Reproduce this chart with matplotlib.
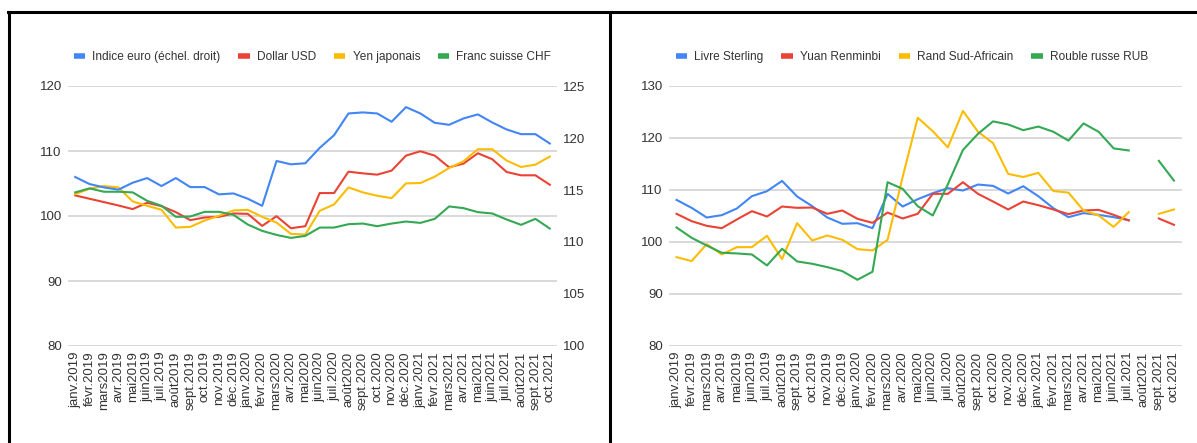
import numpy as np
import matplotlib.pyplot as plt
from matplotlib.lines import Line2D

plt.rcParams['font.family'] = ['Liberation Sans', 'DejaVu Sans']

months = ['janv.2019', 'févr.2019', 'mars2019', 'avr.2019', 'mai2019', 'juin2019',
          'juil.2019', 'août2019', 'sept.2019', 'oct.2019', 'nov.2019', 'déc.2019',
          'janv.2020', 'févr.2020', 'mars2020', 'avr.2020', 'mai2020', 'juin2020',
          'juil.2020', 'août2020', 'sept.2020', 'oct.2020', 'nov.2020', 'déc.2020',
          'janv.2021', 'févr.2021', 'mars2021', 'avr.2021', 'mai2021', 'juin2021',
          'juil.2021', 'août2021', 'sept.2021', 'oct.2021']

# Left chart: euro index (right scale) and three currencies (left scale)
euro_index = [116.25, 115.57, 115.25, 115.03, 115.70, 116.15, 115.38, 116.15, 115.28, 115.28,
              114.58, 114.67, 114.16, 113.48, 117.79, 117.47, 117.57, 119.05, 120.27, 122.36,
              122.46, 122.36, 121.56, 122.97, 122.36, 121.46, 121.27, 121.88, 122.27, 121.49,
              120.82, 120.37, 120.37, 119.47]
dollar_usd = [103.17, 102.65, 102.14, 101.62, 101.06, 102.03, 101.52, 100.59, 99.36, 99.77,
              99.87, 100.39, 100.33, 98.48, 99.97, 98.12, 98.43, 103.53, 103.53, 106.82,
              106.56, 106.36, 106.98, 109.29, 109.96, 109.29, 107.49, 108.06, 109.65, 108.73,
              106.77, 106.26, 106.26, 104.81]
yen = [103.37, 104.20, 104.61, 104.40, 102.24, 101.57, 100.95, 98.22, 98.33, 99.31,
       100.03, 100.85, 100.95, 99.87, 98.99, 97.25, 97.14, 100.80, 101.78, 104.40,
       103.63, 103.11, 102.75, 105.02, 105.07, 106.05, 107.39, 108.42, 110.27, 110.27,
       108.52, 107.54, 107.90, 109.14]
franc_chf = [103.63, 104.25, 103.73, 103.73, 103.63, 102.34, 101.57, 99.87, 99.92, 100.64,
             100.64, 100.18, 98.69, 97.71, 97.09, 96.63, 96.94, 98.22, 98.22, 98.74,
             98.84, 98.43, 98.84, 99.15, 98.94, 99.56, 101.47, 101.21, 100.59, 100.39,
             99.46, 98.64, 99.56, 98.07]

# Right chart: four more currencies (gaps where no value)
nan = np.nan
sterling = [108.1, 106.57, 104.71, 105.16, 106.44, 108.81, 109.77, 111.75, 108.75, 106.89,
            104.71, 103.50, 103.62, 102.66, 109.26, 106.82, 108.23, 109.39, 110.35, 109.90,
            111.05, 110.79, 109.32, 110.73, 108.81, 106.50, 104.78, 105.55, 105.22, 104.78,
            104.20, nan, nan, nan]
yuan = [105.42, 104.01, 103.11, 102.66, 104.33, 105.93, 104.90, 106.82, 106.57, 106.63,
        105.42, 106.06, 104.46, 103.69, 105.67, 104.52, 105.42, 109.26, 109.26, 111.50,
        109.26, 107.78, 106.25, 107.78, 107.08, 106.25, 105.35, 106.06, 106.18, 105.22,
        104.14, nan, 104.52, 103.30]
rand = [97.09, 96.33, 99.59, 97.60, 99.01, 99.01, 101.19, 96.71, 103.62, 100.29,
        101.25, 100.42, 98.63, 98.37, 100.42, 112.5, 123.9, 121.3, 118.2, 125.2,
        121.2, 119.0, 113.1, 112.5, 113.3, 109.8, 109.5, 106.06, 105.1, 102.9,
        105.74, nan, 105.42, 106.25]
rouble = [102.79, 100.81, 99.33, 97.93, 97.80, 97.60, 95.49, 98.69, 96.26, 95.81,
          95.17, 94.40, 92.74, 94.28, 111.50, 110.22, 106.89, 105.10, 111.1, 117.7,
          120.8, 123.2, 122.6, 121.5, 122.2, 121.2, 119.5, 122.8, 121.2, 118.0,
          117.6, nan, 115.6, 111.8]

BLUE, RED, YELLOW, GREEN = '#4285F4', '#EA4335', '#FBBC04', '#34A853'
TXT = '#333333'
GRID = '#d0d0d0'

fig = plt.figure(figsize=(11.97, 4.43), dpi=100)
x = np.arange(len(months))


def style(ax, ylim, yticks):
    ax.set_xlim(-0.5, len(months) - 0.5)
    ax.set_ylim(*ylim)
    ax.set_yticks(yticks)
    ax.set_xticks(x)
    ax.set_xticklabels(months, rotation=90, fontsize=9.5, color=TXT)
    ax.tick_params(length=0, labelsize=9.5, labelcolor=TXT)
    ax.tick_params(axis='x', pad=4)
    ax.tick_params(axis='y', pad=4.5)
    for s in ax.spines.values():
        s.set_visible(False)
    ax.grid(axis='y', color=GRID, lw=1.1)
    ax.set_axisbelow(True)


def legend(ax, names, colors, xc):
    handles = [Line2D([0], [0], color=c, lw=4, solid_capstyle='butt') for c in colors]
    ax.legend(handles, names, loc='center', bbox_to_anchor=(xc, 1.11), ncol=4,
              frameon=False, fontsize=8.6, handlelength=0.95, handletextpad=0.6,
              columnspacing=1.5, labelcolor=TXT)


# left chart
ax1 = fig.add_axes([68 / 1197, 1 - 346 / 443, 489 / 1197, 260 / 443])
style(ax1, (80, 120), [80, 90, 100, 110, 120])
ax1r = ax1.twinx()
ax1r.set_ylim(100, 125)
ax1r.set_yticks([100, 105, 110, 115, 120, 125])
ax1r.tick_params(length=0, labelsize=9.5, labelcolor=TXT, pad=4.5)
for s in ax1r.spines.values():
    s.set_visible(False)
ax1.plot(x, dollar_usd, color=RED, lw=1.5)
ax1.plot(x, yen, color=YELLOW, lw=1.5)
ax1.plot(x, franc_chf, color=GREEN, lw=1.5)
ax1r.plot(x, euro_index, color=BLUE, lw=1.5)
legend(ax1r, ['Indice euro (échel. droit)', 'Dollar USD', 'Yen japonais', 'Franc suisse CHF'],
       [BLUE, RED, YELLOW, GREEN], 0.5)

# right chart
ax2 = fig.add_axes([669 / 1197, 1 - 346 / 443, 512.5 / 1197, 260 / 443])
style(ax2, (80, 130), [80, 90, 100, 110, 120, 130])
ax2.plot(x, sterling, color=BLUE, lw=1.5)
ax2.plot(x, yuan, color=RED, lw=1.5)
ax2.plot(x, rand, color=YELLOW, lw=1.5)
ax2.plot(x, rouble, color=GREEN, lw=1.5)
legend(ax2, ['Livre Sterling', 'Yuan Renminbi', 'Rand Sud-Africain', 'Rouble russe RUB'],
       [BLUE, RED, YELLOW, GREEN], 0.474)

# black frame lines around the panels
top = 1 - 11.5 / 443
fig.add_artist(Line2D([8 / 1197, 1], [top, top], color='black', lw=2.2))
fig.add_artist(Line2D([9 / 1197, 9 / 1197], [0, top], color='black', lw=2.2))
fig.add_artist(Line2D([609.5 / 1197, 609.5 / 1197], [0, top], color='black', lw=2.2))

fig.savefig('out.png', dpi=100)
